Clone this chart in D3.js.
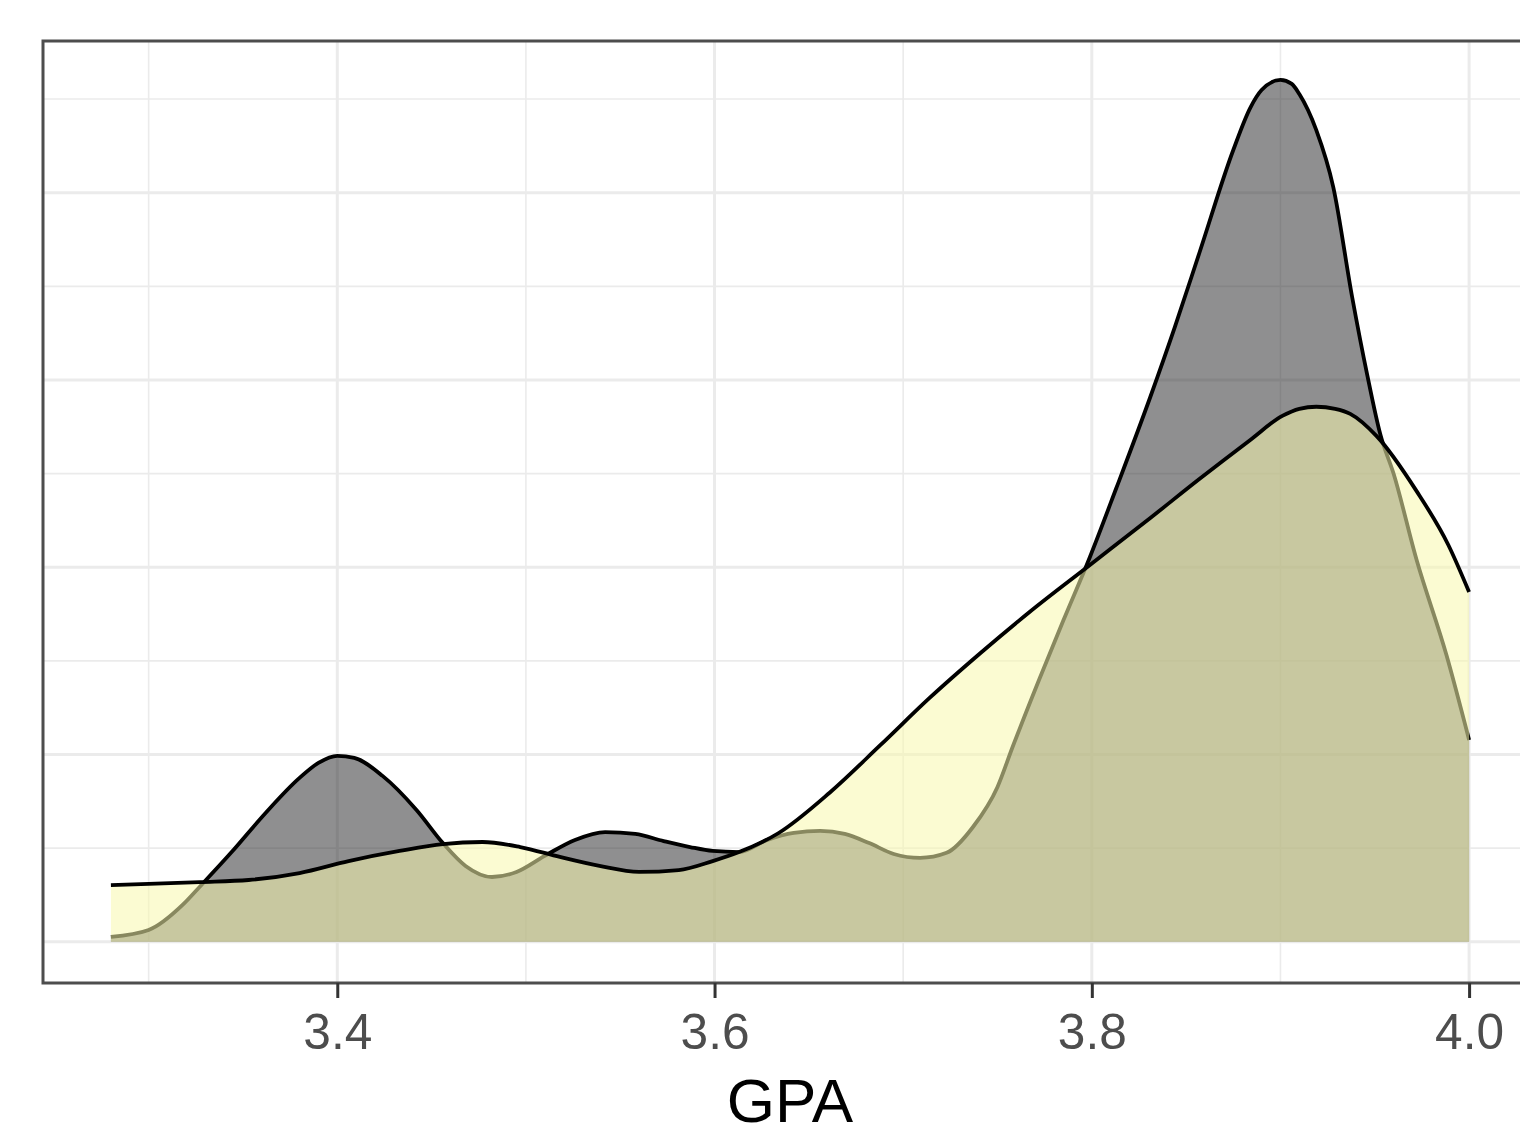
<!DOCTYPE html>
<html>
<head>
  <meta charset="utf-8">
  <title>GPA density</title>
  <script src="https://d3js.org/d3.v7.min.js"></script>
</head>
<style>
  body {
    margin: 0;
    background: #fff;
    font-family: 'Liberation Sans', Arial, sans-serif;
  }
  .grid-major { stroke: #ebebeb; stroke-width: 3; }
  .grid-minor { stroke: #ebebeb; stroke-width: 1.6; }
  .x-axis text { fill: #4d4d4d; font-size: 49.6px; font-family: 'Liberation Sans', Arial, sans-serif; }
  .x-axis line { stroke: #333; stroke-width: 3; }
</style>
<body>
<div id="chart"></div>
<script>
// group A (grey density)
var gpaA = [3.280, 3.300, 3.318, 3.327, 3.344, 3.362, 3.380, 3.390, 3.400, 3.409,
            3.424, 3.442, 3.456, 3.468, 3.482, 3.495, 3.510, 3.526, 3.542, 3.558,
            3.573, 3.587, 3.599, 3.613, 3.628, 3.642, 3.656, 3.669, 3.682, 3.695,
            3.709, 3.723, 3.737, 3.750, 3.758, 3.772, 3.785, 3.799, 3.813, 3.831,
            3.844, 3.857, 3.875, 3.884, 3.890, 3.900, 3.906, 3.910, 3.919, 3.928,
            3.938, 3.946, 3.953, 3.960, 3.972, 3.988, 4.000];
var densA = [0.026, 0.063, 0.197, 0.293, 0.479, 0.688, 0.875, 0.955, 0.993, 0.982,
             0.886, 0.704, 0.527, 0.405, 0.346, 0.373, 0.459, 0.544, 0.586, 0.576,
             0.538, 0.506, 0.485, 0.479, 0.544, 0.581, 0.592, 0.576, 0.527, 0.469,
             0.448, 0.475, 0.613, 0.827, 1.040, 1.398, 1.718, 2.055, 2.423, 2.909,
             3.282, 3.678, 4.228, 4.453, 4.548, 4.602, 4.581, 4.527, 4.334, 4.030,
             3.443, 3.027, 2.707, 2.499, 2.045, 1.531, 1.078];

// group B (yellow density)
var gpaB = [3.280, 3.300, 3.327, 3.353, 3.380, 3.406, 3.433, 3.456, 3.477, 3.497,
            3.518, 3.539, 3.560, 3.581, 3.599, 3.613, 3.634, 3.661, 3.688, 3.714,
            3.741, 3.767, 3.799, 3.831, 3.857, 3.884, 3.901, 3.910, 3.919, 3.929,
            3.937, 3.951, 3.972, 3.989, 4.000];
var densB = [0.303, 0.309, 0.319, 0.330, 0.367, 0.431, 0.485, 0.522, 0.533, 0.506,
             0.453, 0.405, 0.373, 0.383, 0.431, 0.479, 0.581, 0.796, 1.051, 1.302,
             1.542, 1.761, 2.012, 2.263, 2.471, 2.680, 2.808, 2.846, 2.857, 2.846,
             2.819, 2.700, 2.409, 2.119, 1.868];

var xMajor = [3.4, 3.6, 3.8, 4.0];
var xMinor = [3.3, 3.5, 3.7, 3.9];
var yMajor = [0, 1, 2, 3, 4];
var yMinor = [0.5, 1.5, 2.5, 3.5, 4.5];
var tickLabels = ["3.4", "3.6", "3.8", "4.0"];

var width = 1520, height = 1136;
var panel = {left: 43, right: 1537, top: 41, bottom: 983};

var svg = d3.select("#chart")
  .append("svg")
  .attr("width", width)
  .attr("height", height);

// x range 3.28..4.00 with ggplot style 5% padding
var x = d3.scaleLinear()
  .domain([3.244, 4.036])
  .range([panel.left, panel.right]);
var y = d3.scaleLinear()
  .domain([-0.22, 4.81])
  .range([panel.bottom, panel.top]);

svg.append("defs").append("clipPath")
  .attr("id", "clip")
  .append("rect")
  .attr("x", panel.left).attr("y", panel.top)
  .attr("width", panel.right - panel.left)
  .attr("height", panel.bottom - panel.top);

var plot = svg.append("g").attr("clip-path", "url(#clip)");

// grid
plot.selectAll(".gy-minor").data(yMinor).enter().append("line")
  .attr("class", "grid-minor")
  .attr("x1", panel.left).attr("x2", panel.right)
  .attr("y1", function(d) { return y(d); }).attr("y2", function(d) { return y(d); });
plot.selectAll(".gx-minor").data(xMinor).enter().append("line")
  .attr("class", "grid-minor")
  .attr("y1", panel.top).attr("y2", panel.bottom)
  .attr("x1", function(d) { return x(d); }).attr("x2", function(d) { return x(d); });
plot.selectAll(".gy-major").data(yMajor).enter().append("line")
  .attr("class", "grid-major")
  .attr("x1", panel.left).attr("x2", panel.right)
  .attr("y1", function(d) { return y(d); }).attr("y2", function(d) { return y(d); });
plot.selectAll(".gx-major").data(xMajor).enter().append("line")
  .attr("class", "grid-major")
  .attr("y1", panel.top).attr("y2", panel.bottom)
  .attr("x1", function(d) { return x(d); }).attr("x2", function(d) { return x(d); });

var curve = d3.curveMonotoneX;

function drawDensity(gpa, dens, fill, opacity) {
  var pts = gpa.map(function(g, i) { return [g, dens[i]]; });
  var area = d3.area()
    .x(function(d) { return x(d[0]); })
    .y0(y(0))
    .y1(function(d) { return y(d[1]); })
    .curve(curve);
  var line = d3.line()
    .x(function(d) { return x(d[0]); })
    .y(function(d) { return y(d[1]); })
    .curve(curve);
  plot.append("path")
    .datum(pts)
    .attr("d", area)
    .attr("fill", fill)
    .attr("fill-opacity", opacity);
  plot.append("path")
    .datum(pts)
    .attr("d", line)
    .attr("fill", "none")
    .attr("stroke", "#000")
    .attr("stroke-width", 3.8);
}

drawDensity(gpaA, densA, "#1f1f22", 0.5);
drawDensity(gpaB, densB, "#f8f8ad", 0.55);

// panel border
svg.append("rect")
  .attr("x", panel.left).attr("y", panel.top)
  .attr("width", panel.right - panel.left)
  .attr("height", panel.bottom - panel.top)
  .attr("fill", "none")
  .attr("stroke", "#4d4d4d")
  .attr("stroke-width", 3);

// x axis
var xAxis = d3.axisBottom(x)
  .tickValues(xMajor)
  .tickFormat(function(d, i) { return tickLabels[i]; })
  .tickSize(15)
  .tickPadding(16);

var gx = svg.append("g")
  .attr("class", "x-axis")
  .attr("transform", "translate(0," + panel.bottom + ")")
  .call(xAxis);
gx.select(".domain").remove();

svg.append("text")
  .attr("x", (panel.left + panel.right) / 2)
  .attr("y", 1122)
  .attr("text-anchor", "middle")
  .attr("fill", "#000")
  .style("font-size", "62px")
  .text("GPA");
</script>
</body>
</html>
